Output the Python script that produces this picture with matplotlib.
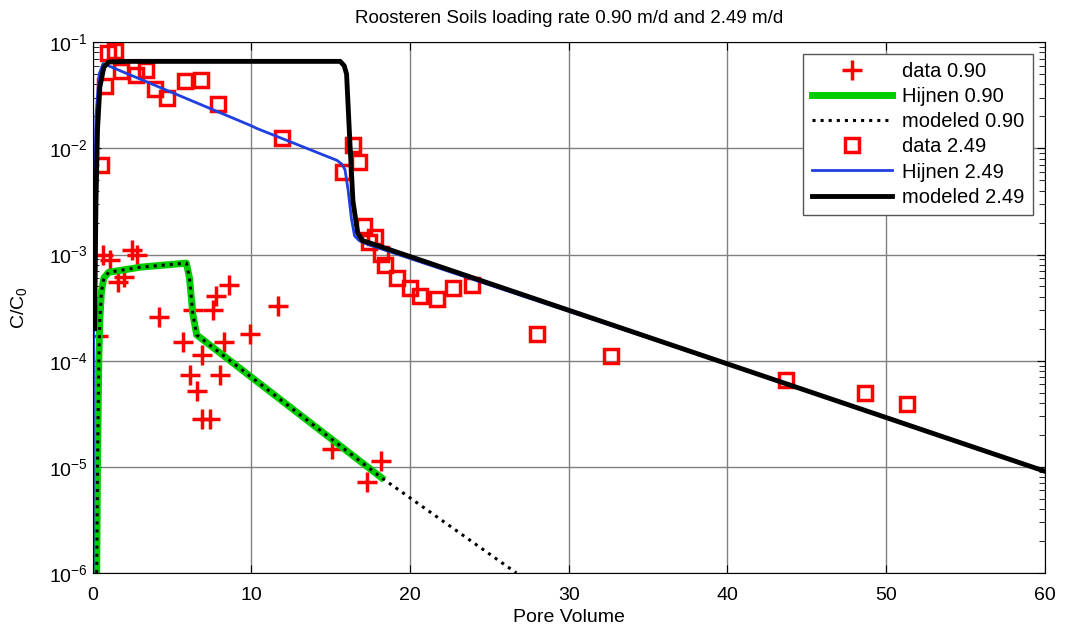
import numpy as np
import matplotlib
matplotlib.use("Agg")
import matplotlib.pyplot as plt

plt.rcParams['font.family'] = ['Liberation Sans', 'DejaVu Sans']
plt.rcParams['mathtext.fontset'] = 'custom'
plt.rcParams['mathtext.rm'] = 'Liberation Sans'
plt.rcParams['mathtext.it'] = 'Liberation Sans:italic'

# measured data, loading rate 0.90 m/d
pv_090 = [0.3, 0.63, 1.07, 1.58, 1.95, 2.46, 2.77, 4.2, 5.7, 6.1, 6.3, 6.55, 6.9,
          6.9, 7.4, 7.6, 7.75, 8.0, 8.25, 8.6, 9.9, 11.65, 15.1, 17.3, 18.2]
c_090 = [1.7e-4, 1.0e-3, 8.9e-4, 5.5e-4, 6.2e-4, 1.1e-3, 1.0e-3, 2.6e-4, 1.5e-4, 7.4e-5,
         3.0e-4, 5.2e-5, 1.13e-4, 2.8e-5, 2.8e-5, 3.0e-4, 4.1e-4, 7.4e-5, 1.5e-4, 5.2e-4,
         1.8e-4, 3.3e-4, 1.47e-5, 7.2e-6, 1.13e-5]

# measured data, loading rate 2.49 m/d
pv_249 = [0.55, 0.76, 0.97, 1.4, 1.8, 2.7, 3.35, 3.95, 4.7, 5.8, 6.8, 7.9, 11.9,
          15.75, 16.4, 16.8, 17.1, 17.4, 17.8, 18.15, 18.4, 19.2, 20.0, 20.6, 21.7,
          22.7, 23.9, 28.0, 32.65, 43.7, 48.65, 51.35]
c_249 = [6.9e-3, 0.039, 0.079, 0.082, 0.053, 0.049, 0.055, 0.036, 0.030, 0.043, 0.044,
         0.026, 0.0125, 0.006, 0.0107, 0.0074, 1.85e-3, 1.3e-3, 1.45e-3, 1.02e-3, 7.9e-4,
         6.0e-4, 4.8e-4, 4.1e-4, 3.8e-4, 4.8e-4, 5.2e-4, 1.8e-4, 1.1e-4, 6.6e-5, 5.0e-5, 3.9e-5]

# Hijnen model 0.90
pv_hij_090 = [0.25, 0.3, 0.38, 0.45, 0.55, 0.7, 1.0, 3.0, 5.9, 6.1, 6.3, 6.55, 18.2]
c_hij_090 = [1e-6, 1e-5, 1e-4, 2.5e-4, 4.5e-4, 6.0e-4, 6.8e-4, 7.6e-4, 8.3e-4, 6.0e-4,
             2.8e-4, 1.75e-4, 7.9e-6]

# modeled 0.90
pv_mod_090 = [0.25, 0.3, 0.38, 0.45, 0.55, 0.7, 1.0, 3.0, 5.9, 6.1, 6.3, 6.55, 18.2, 26.7]
c_mod_090 = [1e-6, 1e-5, 1e-4, 2.5e-4, 4.5e-4, 6.0e-4, 6.8e-4, 7.6e-4, 8.3e-4, 6.0e-4,
             2.8e-4, 1.75e-4, 7.9e-6, 1.0e-6]

# Hijnen model 2.49
pv_hij_249 = [0.02, 0.05, 0.1, 0.2, 0.4, 0.65, 10.0, 10.3, 15.4, 15.7, 15.9, 16.1, 16.3,
              16.5, 16.8, 17.3, 50.9]
c_hij_249 = [1e-6, 1e-4, 3e-3, 0.02, 0.05, 0.063, 0.0163, 0.0155, 7.7e-3, 7.1e-3, 6.3e-3,
             4.0e-3, 2.2e-3, 1.5e-3, 1.35e-3, 1.25e-3, 2.66e-5]

# modeled 2.49
pv_mod_249 = [0.12, 0.2, 0.3, 0.45, 0.7, 1.0, 2.0, 15.6, 15.85, 16.0, 16.2, 16.4, 16.7,
              17.0, 17.5, 60.0]
c_mod_249 = [2e-4, 3e-3, 0.015, 0.038, 0.058, 0.065, 0.066, 0.066, 0.06, 0.05, 0.012,
             3.2e-3, 1.6e-3, 1.35e-3, 1.28e-3, 9.1e-6]

fig = plt.figure(figsize=(10.66, 6.3), dpi=100)
ax = fig.add_axes([0.087, 0.0905, 0.893, 0.8425])

ax.plot(pv_090, c_090, '+', color='red', ms=14, mew=2.5, label='data 0.90')
ax.plot(pv_hij_090, c_hij_090, color='#00cc00', lw=5, label='Hijnen 0.90')
ax.plot(pv_mod_090, c_mod_090, ':', color='black', lw=2.2, label='modeled 0.90')
ax.plot(pv_249, c_249, 's', mfc='none', mec='red', ms=10, mew=2.5, label='data 2.49')
ax.plot(pv_hij_249, c_hij_249, color='#1f3fe0', lw=2, label='Hijnen 2.49')
ax.plot(pv_mod_249, c_mod_249, color='black', lw=3.5, label='modeled 2.49')

ax.set_yscale('log')
ax.set_xlim(0, 60)
ax.set_ylim(1e-6, 1e-1)
ax.set_xticks(range(0, 61, 10))
ax.grid(True, which='major', color='#808080', lw=1)
ax.tick_params(which='both', direction='in', top=True, right=True, labelsize=14)
ax.tick_params(which='major', length=6)
ax.tick_params(which='minor', length=4)
ax.tick_params(axis='x', pad=10)

ax.set_title('Roosteren Soils loading rate 0.90 m/d and 2.49 m/d', fontsize=13.5, pad=14)
ax.set_xlabel('Pore Volume', fontsize=14, labelpad=4)
ax.set_ylabel('C/C$_0$', fontsize=14, labelpad=14)

leg = ax.legend(loc='upper right', fontsize=14.5, fancybox=False, framealpha=1,
                edgecolor='#555555', handlelength=4.0, borderaxespad=0.6,
                labelspacing=0.3, handletextpad=0.5, borderpad=0.4)
leg.get_frame().set_linewidth(1)

fig.savefig('out.png', dpi=100)
